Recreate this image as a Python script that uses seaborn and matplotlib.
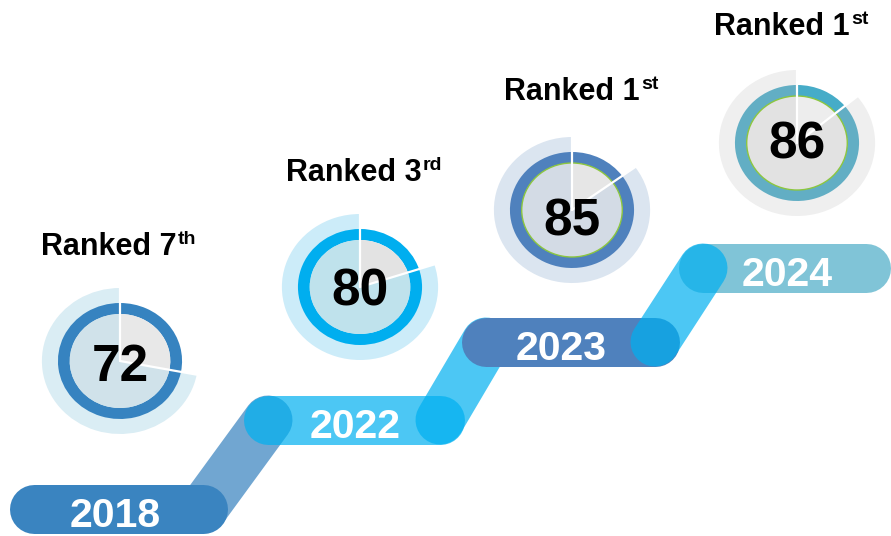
import numpy as np
import pandas as pd
import matplotlib
matplotlib.use("Agg")
import matplotlib.pyplot as plt
from matplotlib.patches import Wedge, Circle
from matplotlib.transforms import Affine2D
import seaborn as sns

# ---- data -------------------------------------------------------------
years = ["2018", "2022", "2023", "2024"]
scores = [72, 80, 85, 86]
rank_text = ["Ranked 7", "Ranked 3", "Ranked 1", "Ranked 1"]
rank_suffix = ["th", "rd", "st", "st"]

# ---- layout (canvas pixels, y grows downwards) ------------------------
W, H = 891, 536
track_y = [509, 420, 342, 268]
track_x0 = [34, 268, 486, 703]
track_x1 = [203, 440, 655, 866]
year_x = [115, 355, 561, 787]
ring_cx = [120, 360, 572, 797]
ring_cy = [361, 287, 210, 143]
number_dy = [2, 0, 7, -3]
label_x = [41, 286, 504, 714]
label_base = [255, 181, 100, 35]

# ---- styles -----------------------------------------------------------
bar_colors = ["#3a84c0", "#00b0f0", "#4f81bd", "#4bacc6"]
bar_alpha = [1.0, 0.7, 1.0, 0.7]
bar_z = [2, 3, 5, 6]
link_colors = ["#3a84c0", "#00b0f0", "#00b0f0"]
link_alpha = [0.72, 0.7, 0.7]
link_z = [1, 4, 7]

pale_colors = ["#daedf4", "#ccecf9", "#dbe5f0", "#efefef"]
ring_colors = ["#3683c0", "#00aeef", "#4f81bd", "#62aec4"]
ring_gap_colors = ["#3683c0", "#00aeef", "#4f81bd", "#46acc8"]
disc_colors = ["#d0e2ea", "#bfe2ec", "#d3dbe5", "#e2e2e2"]
gap_colors = ["#e8e8e8", "#e3e3e3", "#e6e6e6", "#ededed"]
green_edge = [False, False, True, True]

FONT = "Liberation Sans"
TRACK_PX = 49
TRACK_LW = TRACK_PX * 72 / 100  # pixels -> points at 100 dpi
SX = 1.07                       # rings are slightly wider than tall
R_PALE, R_RING, R_IN = 73, 58, 47

sns.set_theme(style="white")
plt.rcParams["font.family"] = [FONT, "DejaVu Sans"]

fig = plt.figure(figsize=(W / 100, H / 100), dpi=100, facecolor="white")
ax = fig.add_axes([0, 0, 1, 1])


def stroke(xs, ys, color, alpha, z):
    seg = pd.DataFrame({"x": xs, "y": ys})
    sns.lineplot(data=seg, x="x", y="y", ax=ax, color=color, alpha=alpha,
                 linewidth=TRACK_LW, solid_capstyle="round", sort=False,
                 estimator=None, zorder=z)


# staircase track: horizontal pills joined by slanted links
for i in range(len(years)):
    stroke([track_x0[i], track_x1[i]], [track_y[i], track_y[i]],
           bar_colors[i], bar_alpha[i], bar_z[i])
for i in range(len(years) - 1):
    stroke([track_x1[i], track_x0[i + 1]], [track_y[i], track_y[i + 1]],
           link_colors[i], link_alpha[i], link_z[i])

for i, yr in enumerate(years):
    ax.text(year_x[i], track_y[i] + 18, yr, ha="center", va="baseline",
            color="white", fontsize=29.5, fontweight="bold", zorder=10)

# score dials
for i, sc in enumerate(scores):
    cx, cy = ring_cx[i], ring_cy[i]
    tr = Affine2D().scale(SX, -1).translate(cx, cy) + ax.transData
    sweep = 360 * sc / 100
    a0, a1 = 90, 90 + sweep
    ax.add_patch(Wedge((0, 0), R_PALE, a0, a1, facecolor=pale_colors[i],
                       lw=0, transform=tr, zorder=11))
    ax.add_patch(Wedge((0, 0), R_RING, a0, a1, width=R_RING - R_IN,
                       facecolor=ring_colors[i], lw=0, transform=tr, zorder=12))
    ax.add_patch(Wedge((0, 0), R_RING, a1, a0 + 360, width=R_RING - R_IN,
                       facecolor=ring_gap_colors[i], lw=0, transform=tr, zorder=12))
    ax.add_patch(Wedge((0, 0), R_IN, a0, a1, facecolor=disc_colors[i],
                       lw=0, transform=tr, zorder=12))
    ax.add_patch(Wedge((0, 0), R_IN, a1, a0 + 360, facecolor=gap_colors[i],
                       lw=0, transform=tr, zorder=12))
    if green_edge[i]:
        ax.add_patch(Circle((0, 0), R_IN, fill=False, edgecolor="#8cc63f",
                            lw=1.0, transform=tr, zorder=13))
    for ang in (a0, a1):
        t = np.deg2rad(ang)
        ax.plot([0, R_PALE * np.cos(t)], [0, R_PALE * np.sin(t)],
                color="white", lw=1.6, transform=tr, zorder=14)
    cap_px = 0.716 * 37 * 100 / 72
    ax.text(cx, cy + number_dy[i] + cap_px / 2, str(sc), ha="center",
            va="baseline", fontsize=37, fontweight="bold", color="black",
            zorder=15)

# rank captions with superscript ordinals
for i in range(len(scores)):
    main = ax.text(label_x[i], label_base[i], rank_text[i], ha="left",
                   va="baseline", fontsize=22, fontweight="bold",
                   color="black", zorder=15)
    ax.annotate(rank_suffix[i], xy=(1, 1), xycoords=main,
                xytext=(1, 1), textcoords="offset points", ha="left",
                va="top", fontsize=14, fontweight="bold", color="black",
                zorder=15)

ax.set_xlim(0, W)
ax.set_ylim(H, 0)
ax.set_axis_off()
fig.savefig("out.png", dpi=100, facecolor="white")
